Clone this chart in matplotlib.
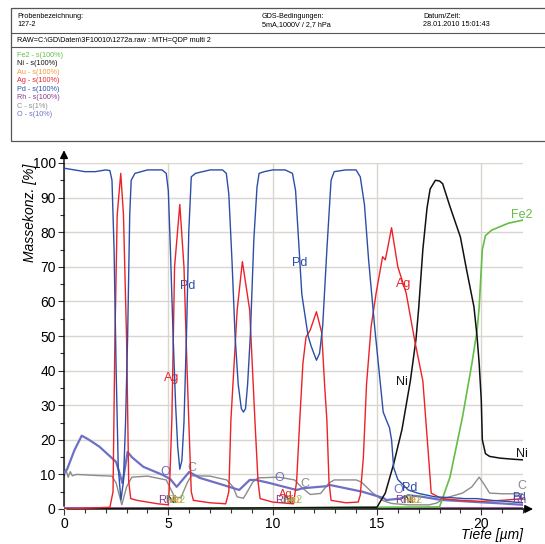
import matplotlib
matplotlib.use("Agg")
import matplotlib.pyplot as plt
from matplotlib.patches import Rectangle

plt.rcParams['font.family'] = ['Liberation Sans', 'DejaVu Sans']

# colours of the elements
col = {"Fe2": "#62be45", "Ni": "#111111", "Au": "#f39a3a", "Ag": "#ec2228",
       "Pd": "#2c4ea6", "Rh": "#8a3a94", "C": "#8c8c8c", "O": "#6d70c4"}

# ---- data (depth in um, mass conc. in %) ----
pd_x = [0, 0.5, 1.0, 1.5, 2.0, 2.2, 2.3, 2.4, 2.5, 2.6, 2.73, 2.85, 2.95, 3.05, 3.15, 3.22, 3.4,
        4.0, 4.7, 4.9, 5.0, 5.1, 5.23, 5.35, 5.45, 5.55, 5.65, 5.75, 5.87, 5.98, 6.1, 6.3,
        7.0, 7.6, 7.78, 7.9, 8.05, 8.2, 8.35, 8.5, 8.6, 8.7, 8.8, 8.93, 9.1, 9.25, 9.35, 9.6,
        10.0, 10.6, 10.95, 11.1, 11.4, 11.7, 11.85, 12.1, 12.25, 12.4, 12.6, 12.8, 12.95,
        13.5, 14.0, 14.2, 14.4, 14.6, 14.9, 15.1, 15.3, 15.45, 15.6, 15.7, 15.8, 16.0,
        16.5, 17.0, 17.8, 18.5, 19.2, 19.8, 20.5, 21.2, 22.0]
pd_y = [98.5, 98, 97.5, 97.5, 98, 97.8, 95, 75, 40, 12, 2.6, 8, 25, 50, 85, 95, 97,
        98, 98, 97, 92, 75, 50, 30, 18, 11.5, 14, 25, 50, 80, 96, 97,
        98, 98, 97, 91, 72, 50, 36, 29, 28, 29, 36, 50, 78, 93, 97, 97.5,
        98, 98, 97, 92, 62, 50, 47, 43, 45, 53, 75, 95, 97.5,
        98, 98, 96, 88, 72, 52, 40, 28, 25.7, 23.5, 20, 12, 8.5,
        5.5, 4.5, 3.5, 3.3, 3.0, 3.0, 2.5, 2.2, 1.8]

ag_x = [0, 2.2, 2.35, 2.44, 2.55, 2.72, 2.85, 3.0, 3.1, 3.2, 3.5, 4.0, 4.5, 5.0,
        5.08, 5.17, 5.3, 5.55, 5.75, 5.9, 5.98, 6.1, 6.2, 7.0, 7.75,
        7.9, 8.0, 8.3, 8.55, 8.9, 9.15, 9.3, 9.4, 10.0, 11.0,
        11.15, 11.3, 11.45, 11.6, 11.8, 12.1, 12.35, 12.5, 12.6, 12.7, 12.8, 13.5, 14.1,
        14.2, 14.35, 14.5, 14.72, 14.96, 15.27, 15.4, 15.5, 15.7, 16.0, 16.4, 16.8,
        17.2, 17.5, 17.6, 18.1, 19.0, 20.0, 21.0, 22.0]
ag_y = [0, 0.5, 5, 49, 85, 97, 85, 49, 8, 3, 2.5, 2, 1.5, 1.2,
        10, 26, 70, 88, 70, 40, 25.7, 5, 2.5, 1.8, 1.5,
        5, 25.7, 57.5, 71.5, 57.5, 25.7, 8, 3, 2, 1.5,
        8, 25.7, 42, 49.7, 51.7, 57, 51, 35, 25.7, 8, 2.5, 1.8, 2,
        4, 15, 36, 52.7, 62.4, 72.9, 72, 75, 81.3, 70, 62.4, 49,
        37, 13, 4.6, 3, 2.5, 2.2, 2.5, 3]

ni_x = [0, 15.0, 15.4, 15.8, 16.2, 16.6, 16.87, 17.0, 17.2, 17.4, 17.55, 17.8, 18.0, 18.15,
        18.5, 19.0, 19.3, 19.65, 19.8, 19.9, 20.0, 20.05, 20.2, 20.4, 20.9, 21.5, 22.0]
ni_y = [0, 0.5, 4.6, 13, 23, 37, 49, 58, 75, 87, 92.5, 95, 94.8, 94,
        87.4, 78.6, 69, 58.4, 49.7, 42, 31.5, 20, 16, 15.2, 14.7, 14.4, 14.2]

fe_x = [0, 18.0, 18.5, 19.1, 19.55, 19.8, 19.9, 20.05, 20.2, 20.5, 21.3, 22.0]
fe_y = [0, 0.6, 9.2, 26.6, 42, 51.7, 58.4, 75, 79, 80.6, 82.6, 83.5]

c_x = [0, 0.1, 0.2, 0.3, 0.4, 0.6, 1.5, 2.3, 2.5, 2.77, 3.0, 3.25, 4.0, 4.9, 5.3, 5.6,
       5.9, 6.1, 7.0, 7.8, 8.1, 8.3, 8.6, 8.75, 9.05, 9.3, 10.3, 11.05, 11.4, 11.8, 12.3,
       12.7, 12.95, 14.0, 14.25, 14.8, 15.3, 15.7, 16.5, 17.5, 17.85, 18.3, 19.1, 19.55,
       19.9, 20.15, 20.4, 21.0, 22.0]
c_y = [9.5, 11.2, 9.2, 10.8, 9.6, 10.0, 9.7, 9.5, 7.5, 1.2, 6.4, 9.2, 9.5, 8.4, 3.5, 3.2,
       7.5, 9.6, 9.5, 8.4, 6.4, 3.5, 3.1, 4.6, 7.8, 9.0, 9.2, 8.4, 6.2, 4.2, 4.5,
       7.5, 8.4, 8.4, 7.8, 4.6, 2.4, 1.6, 1.2, 1.2, 1.7, 3.2, 4.6, 6.4,
       9.2, 7.0, 4.6, 4.4, 4.4]

o_x = [0, 0.15, 0.5, 0.85, 1.2, 1.7, 2.1, 2.5, 2.8, 3.05, 3.25, 3.8, 4.75, 5.1, 5.4,
       6.0, 6.5, 7.6, 8.4, 8.9, 9.2, 9.86, 10.3, 11.15, 11.45, 12.6, 12.7, 13.5, 14.3,
       15.3, 15.45, 16.1, 16.5, 17.2, 18.1, 19.0, 19.8, 21.0, 22.0]
o_y = [10.5, 11.5, 17, 21.2, 20, 18, 15.8, 13.6, 7.5, 16.5, 15, 12.2, 9.8, 8.6, 6.4,
       10.7, 9, 7, 5.5, 8.4, 8.4, 7.5, 6.8, 5.5, 6.0, 6.6, 7, 6, 5,
       3.2, 2.6, 3.0, 4.0, 3.5, 2.6, 2.3, 2.0, 1.6, 1.2]

rh_x = [0, 22.0]
rh_y = [0.2, 0.2]
au_x = [0, 22.0]
au_y = [0.1, 0.1]

y_ticks = [0, 10, 20, 30, 40, 50, 60, 70, 80, 90, 100]
x_ticks = [0, 5, 10, 15, 20]

legend_rows = ["Fe2 - s(100%)", "Ni - s(100%)", "Au - s(100%)", "Ag - s(100%)",
               "Pd - s(100%)", "Rh - s(100%)", "C - s(1%)", "O - s(10%)"]
legend_cols = ["Fe2", "Ni", "Au", "Ag", "Pd", "Rh", "C", "O"]

fig = plt.figure(figsize=(5.45, 5.44), dpi=100)

# ---- header box, drawn in pixel coordinates ----
hdr = fig.add_axes([0, 0, 1, 1], zorder=0)
hdr.set_xlim(0, 545)
hdr.set_ylim(544, 0)
hdr.axis("off")
hdr.add_patch(Rectangle((11, 8), 560, 133, fill=False, ec="#555555", lw=0.9, clip_on=False))
hdr.plot([11, 545], [33, 33], color="#555555", lw=0.8)
hdr.plot([11, 545], [47, 47], color="#555555", lw=0.8)
hs = 5.2
hdr.text(17, 17, "Probenbezeichnung:", fontsize=hs, va="center")
hdr.text(17, 25, "127-2", fontsize=hs, va="center")
hdr.text(262, 17, "GDS-Bedingungen:", fontsize=hs, va="center")
hdr.text(262, 25, "5mA,1000V / 2,7 hPa", fontsize=hs, va="center")
hdr.text(423, 17, "Datum/Zeit:", fontsize=hs, va="center")
hdr.text(423, 25, "28.01.2010 15:01:43", fontsize=hs, va="center")
hdr.text(17, 40.5, r"RAW=C:\GD\Daten\3F10010\1272a.raw : MTH=QDP multi 2", fontsize=hs, va="center")
for i, (txt, k) in enumerate(zip(legend_rows, legend_cols)):
    hdr.text(17, 55.5 + i * 8.45, txt, fontsize=hs, va="center", color=col[k])

# ---- main chart ----
ax = fig.add_axes([64 / 545, 35 / 544, 459 / 545, 346 / 544], zorder=1)
ax.patch.set_alpha(0)
ax.set_xlim(0, 22)
ax.set_ylim(0, 100)

ax.plot(rh_x, rh_y, color=col["Rh"], lw=1.2, zorder=3)
ax.plot(au_x, au_y, color=col["Au"], lw=0.8, zorder=2)
ax.plot(c_x, c_y, color=col["C"], lw=1.0, zorder=3)
ax.plot(o_x, o_y, color=col["O"], lw=1.6, zorder=4)
ax.plot(fe_x, fe_y, color=col["Fe2"], lw=1.2, zorder=4)
ax.plot(ni_x, ni_y, color=col["Ni"], lw=1.1, zorder=4)
ax.plot(ag_x, ag_y, color=col["Ag"], lw=1.0, zorder=5)
ax.plot(pd_x, pd_y, color=col["Pd"], lw=1.0, zorder=5)

# curve labels
fs = 9
ax.text(5.93, 64.5, "Pd", color=col["Pd"], fontsize=fs, ha="center", va="center")
ax.text(11.3, 71, "Pd", color=col["Pd"], fontsize=fs, ha="center", va="center")
ax.text(16.55, 6.2, "Pd", color=col["Pd"], fontsize=fs, ha="center", va="center")
ax.text(5.15, 38, "Ag", color=col["Ag"], fontsize=fs, ha="center", va="center")
ax.text(16.3, 65, "Ag", color=col["Ag"], fontsize=fs, ha="center", va="center")
ax.text(16.2, 36.7, "Ni", color=col["Ni"], fontsize=fs, ha="center", va="center")
ax.text(21.95, 16, "Ni", color=col["Ni"], fontsize=fs, ha="center", va="center")
ax.text(21.95, 85, "Fe2", color=col["Fe2"], fontsize=fs, ha="center", va="center")
ax.text(21.95, 6.6, "C", color=col["C"], fontsize=fs, ha="center", va="center")
ax.text(4.83, 10.7, "O", color=col["O"], fontsize=fs, ha="center", va="center")
ax.text(6.15, 11.8, "C", color=col["C"], fontsize=fs, ha="center", va="center")
ax.text(10.3, 9.0, "O", color=col["O"], fontsize=fs, ha="center", va="center")
ax.text(11.55, 7.2, "C", color=col["C"], fontsize=fs, ha="center", va="center")
ax.text(16.0, 5.5, "O", color=col["O"], fontsize=fs, ha="center", va="center")

# crowded labels near zero (they overlap in the original too)
for x0 in [4.85, 10.45, 16.2]:
    ax.text(x0, 2.6, "Rh", color=col["Rh"], fontsize=8, ha="center", va="center", zorder=6)
    ax.text(x0 + 0.3, 2.6, "Ni", color="#444422", fontsize=8, ha="center", va="center", zorder=6)
    ax.text(x0 + 0.5, 2.6, "Fe2", color=col["Fe2"], fontsize=8, ha="center", va="center", alpha=0.8, zorder=6)
    ax.text(x0 + 0.55, 2.6, "Au", color=col["Au"], fontsize=8, ha="center", va="center", alpha=0.9, zorder=6)
ax.text(10.65, 4.3, "Ag", color=col["Ag"], fontsize=8, ha="center", va="center", zorder=6)
ax.text(21.8, 2.5, "Rh", color=col["Rh"], fontsize=8, ha="center", va="center", zorder=6)
ax.text(21.8, 3.6, "Pd", color=col["Pd"], fontsize=8, ha="center", va="center", zorder=6)

# grid and axes
ax.set_xticks(x_ticks)
ax.set_yticks(y_ticks)
ax.set_xticks(range(0, 23), minor=True)
ax.set_yticks(range(5, 100, 10), minor=True)
ax.grid(True, which="major", color="#d9d6cf", lw=1.0, zorder=0)
ax.set_axisbelow(True)
for s in ax.spines.values():
    s.set_visible(False)
ax.tick_params(which="major", length=4, width=0.8, labelsize=10, color="#333333", pad=2)
ax.tick_params(which="minor", length=3, width=0.8, color="#333333")

ax.annotate("", xy=(0, 1.045), xytext=(0, 0), xycoords="axes fraction",
            arrowprops=dict(arrowstyle="-|>", color="black", lw=1.0, mutation_scale=12))
ax.annotate("", xy=(1.028, 0), xytext=(0, 0), xycoords="axes fraction",
            arrowprops=dict(arrowstyle="-|>", color="black", lw=1.0, mutation_scale=12))

ax.text(-0.075, 0.855, "Massekonz. [%]", transform=ax.transAxes, rotation=90,
        fontsize=10, style="italic", ha="center", va="center")
ax.text(1.0, -0.075, "Tiefe [µm]", transform=ax.transAxes,
        fontsize=10, style="italic", ha="right", va="center")

plt.savefig("out.png", dpi=100)
